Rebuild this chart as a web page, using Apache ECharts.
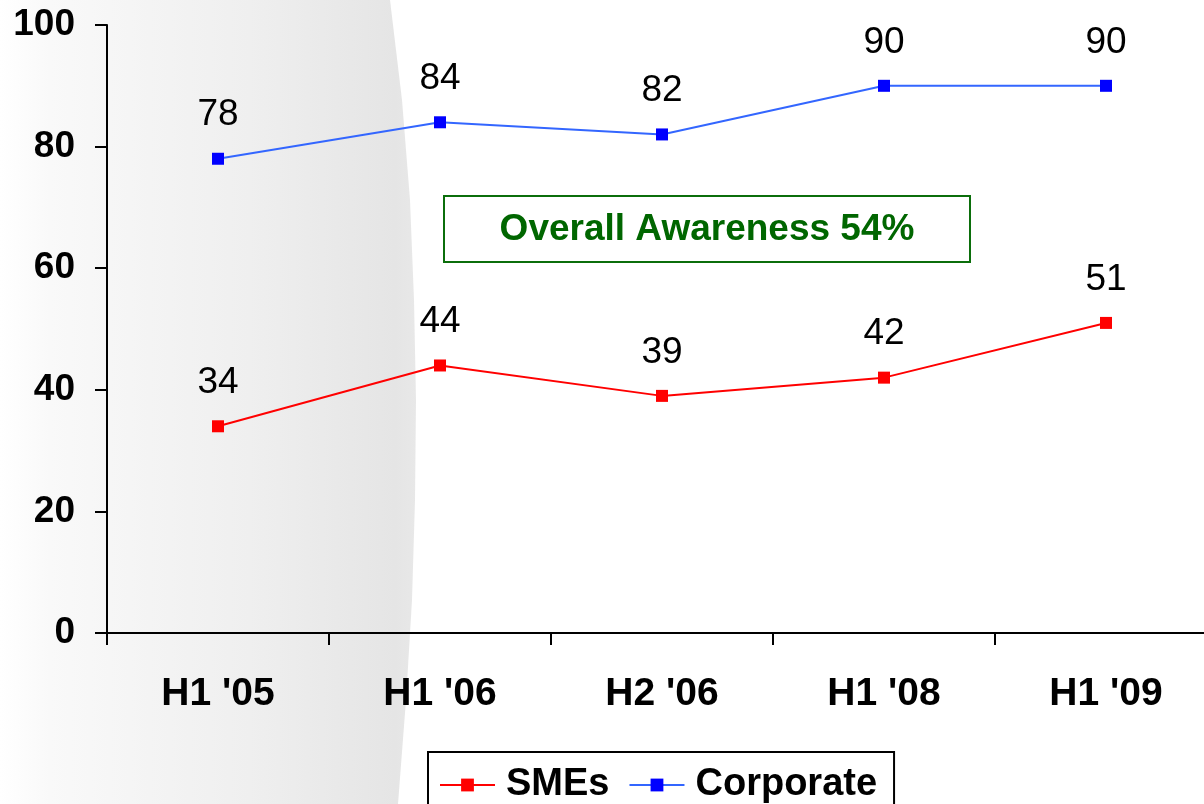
<!DOCTYPE html>
<html>
<head>
<meta charset="utf-8">
<script src="https://cdn.jsdelivr.net/npm/echarts@6/dist/echarts.min.js"></script>
<style>
html,body{margin:0;padding:0;background:#fff;}
#chart{width:1204px;height:804px;}
</style>
</head>
<body>
<div id="chart"></div>
<script>
var categories = ["H1 '05", "H1 '06", "H2 '06", "H1 '08", "H1 '09"];
var smes = [34, 44, 39, 42, 51];
var corporate = [78, 84, 82, 90, 90];
var yTicks = { min: 0, max: 100, interval: 20 };
var annotationText = 'Overall Awareness 54%';

var FONT = '"Liberation Sans", Arial, sans-serif';
var chart = echarts.init(document.getElementById('chart'), null, { renderer: 'canvas' });

var option = {
  backgroundColor: '#ffffff',
  animation: false,
  graphic: [
    {
      type: 'polygon',
      z: -10,
      silent: true,
      shape: {
        points: [[0, 0], [390, 0], [402, 100], [410, 200], [414, 300], [416, 400],
                 [415, 500], [412, 600], [406, 700], [398, 804], [0, 804]]
      },
      style: {
        fill: {
          type: 'linear', x: 0, y: 0, x2: 1, y2: 0,
          colorStops: [
            { offset: 0, color: '#ffffff' },
            { offset: 0.12, color: '#f9f9f9' },
            { offset: 0.6, color: '#efefef' },
            { offset: 0.95, color: '#e5e5e5' },
            { offset: 1, color: '#e8e8e8' }
          ]
        }
      }
    },
    {
      type: 'group',
      left: 443,
      top: 195,
      children: [
        {
          type: 'rect',
          shape: { x: 0, y: 0, width: 526, height: 66 },
          style: { fill: '#ffffff', stroke: '#0b6e0b', lineWidth: 2 }
        },
        {
          type: 'text',
          x: 263,
          y: 34,
          style: {
            text: annotationText,
            fill: '#006600',
            font: 'bold 37px ' + FONT,
            align: 'center',
            verticalAlign: 'middle'
          }
        }
      ]
    }
  ],
  grid: {
    left: 107,
    right: -13,
    top: 25,
    bottom: 171,
    containLabel: false,
    outerBoundsMode: 'none'
  },
  legend: {
    data: ['SMEs', 'Corporate'],
    left: 428,
    top: 752,
    orient: 'horizontal',
    borderColor: '#000000',
    borderWidth: 2,
    padding: [14, 17, 30, 11],
    itemWidth: 55,
    itemHeight: 16,
    itemGap: 19,
    textStyle: {
      fontFamily: FONT,
      fontSize: 38,
      fontWeight: 'bold',
      color: '#000000',
      padding: [0, 0, 0, 6]
    }
  },
  xAxis: {
    type: 'category',
    data: categories,
    boundaryGap: true,
    axisLine: { show: true, lineStyle: { color: '#000000', width: 2 } },
    axisTick: { show: true, length: 12, inside: false, lineStyle: { color: '#000000', width: 2 } },
    axisLabel: {
      fontFamily: FONT,
      fontSize: 39,
      fontWeight: 'bold',
      color: '#000000',
      margin: 42
    },
    splitLine: { show: false }
  },
  yAxis: {
    type: 'value',
    min: yTicks.min,
    max: yTicks.max,
    interval: yTicks.interval,
    axisLine: { show: true, lineStyle: { color: '#000000', width: 2 } },
    axisTick: { show: true, length: 12, inside: false, lineStyle: { color: '#000000', width: 2 } },
    axisLabel: {
      fontFamily: FONT,
      fontSize: 37,
      fontWeight: 'bold',
      color: '#000000',
      margin: 32
    },
    splitLine: { show: false }
  },
  series: [
    {
      name: 'SMEs',
      type: 'line',
      data: smes,
      symbol: 'rect',
      symbolSize: 12,
      lineStyle: { color: '#ff0000', width: 2 },
      itemStyle: { color: '#ff0000' },
      label: {
        show: true,
        position: 'top',
        distance: 19,
        fontFamily: FONT,
        fontSize: 37,
        color: '#000000'
      }
    },
    {
      name: 'Corporate',
      type: 'line',
      data: corporate,
      symbol: 'rect',
      symbolSize: 12,
      lineStyle: { color: '#3366ff', width: 2 },
      itemStyle: { color: '#0000ff' },
      label: {
        show: true,
        position: 'top',
        distance: 19,
        fontFamily: FONT,
        fontSize: 37,
        color: '#000000'
      }
    }
  ]
};
chart.setOption(option);
</script>
</body>
</html>
